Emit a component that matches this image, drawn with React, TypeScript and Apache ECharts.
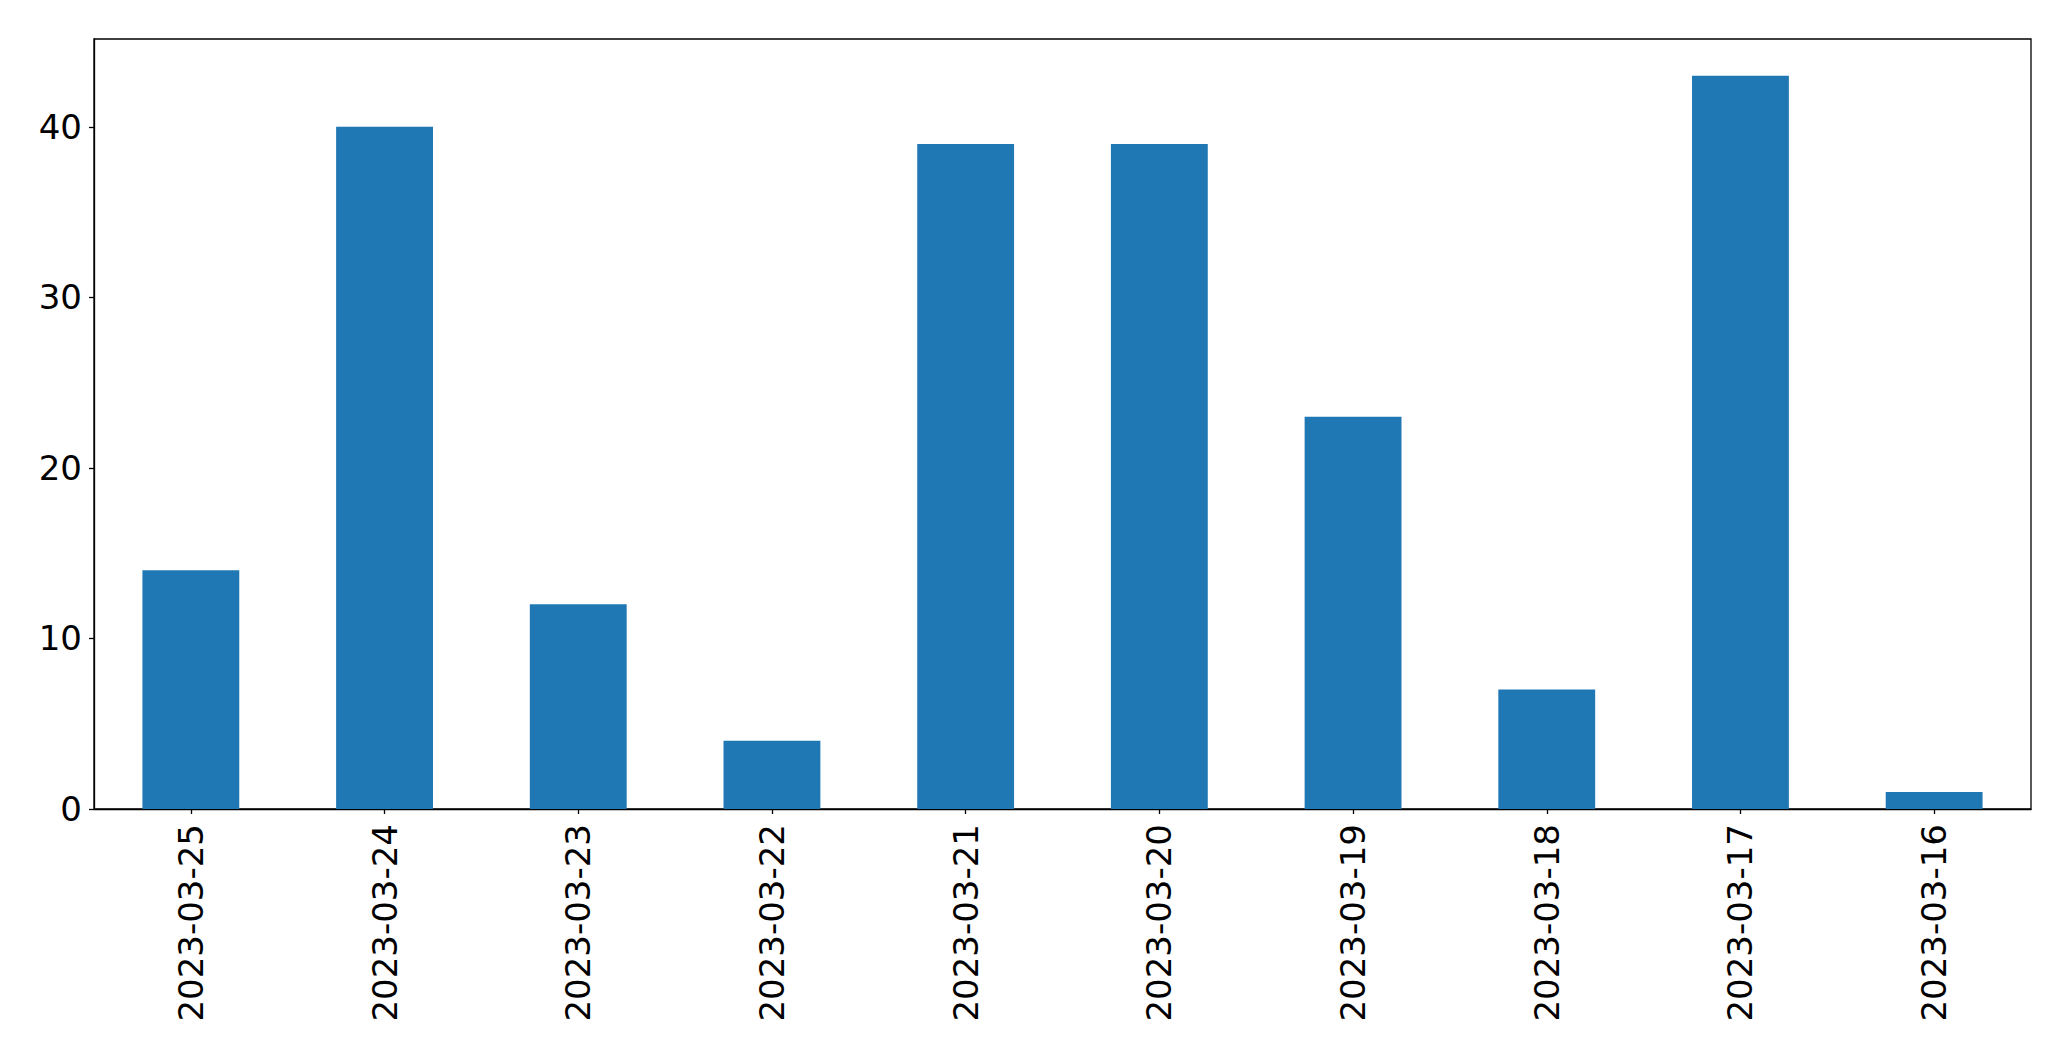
import React, { useEffect, useRef } from "react";
import * as echarts from "echarts";

const categories = [
  "2023-03-25",
  "2023-03-24",
  "2023-03-23",
  "2023-03-22",
  "2023-03-21",
  "2023-03-20",
  "2023-03-19",
  "2023-03-18",
  "2023-03-17",
  "2023-03-16",
];
const values = [14, 40, 12, 4, 39, 39, 23, 7, 43, 1];
const yTicks = [0, 10, 20, 30, 40];

export default function App() {
  const ref = useRef<HTMLDivElement>(null);
  useEffect(() => {
    if (!ref.current) return;
    const chart = echarts.init(ref.current, null, { renderer: "svg" });
    const font = "DejaVu Sans";
    chart.setOption({
      animation: false,
      backgroundColor: "#ffffff",
      grid: {
        left: 94,
        top: 39,
        right: 40,
        bottom: 252,
        show: true,
        borderColor: "#000000",
        borderWidth: 1.3,
        backgroundColor: "transparent",
      },
      xAxis: {
        type: "category",
        data: categories,
        boundaryGap: true,
        axisLine: { show: true, lineStyle: { color: "#000", width: 1.3 } },
        axisTick: {
          show: true,
          alignWithLabel: true,
          length: 5,
          lineStyle: { color: "#000", width: 1.3 },
        },
        axisLabel: {
          rotate: 90,
          interval: 0,
          margin: 15,
          color: "#000",
          fontSize: 34,
          fontFamily: font,
        },
        splitLine: { show: false },
      },
      yAxis: {
        type: "value",
        min: 0,
        max: 45.15,
        interval: 10,
        axisLine: { show: true, lineStyle: { color: "#000", width: 1.3 } },
        axisTick: {
          show: true,
          length: 5,
          customValues: yTicks,
          lineStyle: { color: "#000", width: 1.3 },
        },
        axisLabel: {
          margin: 12,
          color: "#000",
          fontSize: 34,
          fontFamily: font,
          customValues: yTicks,
        },
        splitLine: { show: false },
      },
      series: [
        {
          type: "bar",
          data: values,
          barWidth: "50%",
          itemStyle: { color: "#1f77b4" },
        },
      ],
    });
    return () => chart.dispose();
  }, []);
  return (
    <div
      ref={ref}
      style={{ position: "fixed", left: 0, top: 0, width: 2071, height: 1061 }}
    />
  );
}
